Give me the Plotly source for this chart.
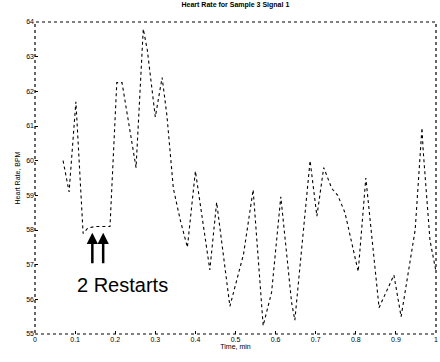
import plotly.graph_objects as go

time_min = [0.07, 0.085, 0.102, 0.12, 0.132, 0.15, 0.168, 0.187, 0.204, 0.217, 0.252, 0.27, 0.28,
            0.30, 0.317, 0.329, 0.345, 0.362, 0.38, 0.40, 0.436, 0.453, 0.486, 0.52, 0.544, 0.569,
            0.59, 0.613, 0.64, 0.648, 0.686, 0.703, 0.72, 0.74, 0.755, 0.773, 0.806, 0.825,
            0.858, 0.895, 0.913, 0.948, 0.965, 0.968, 0.985, 1.0]
heart_rate = [60.0, 59.1, 61.7, 57.9, 58.06, 58.1, 58.1, 58.1, 62.25, 62.25, 59.8, 63.8, 63.2,
              61.26, 62.4, 61.3, 59.2, 58.3, 57.5, 59.7, 56.85, 58.8, 55.8, 57.3, 59.16, 55.24,
              56.2, 58.96, 55.9, 55.4, 60.0, 58.4, 59.8, 59.2, 59.0, 58.5, 56.8, 59.5,
              55.76, 56.7, 55.5, 58.0, 60.95, 60.3, 57.7, 56.8]

x_ticks = [0, 0.1, 0.2, 0.3, 0.4, 0.5, 0.6, 0.7, 0.8, 0.9, 1]
x_tick_labels = ["0", "0.1", "0.2", "0.3", "0.4", "0.5", "0.6", "0.7", "0.8", "0.9", "1"]
y_ticks = [55, 56, 57, 58, 59, 60, 61, 62, 63, 64]
restart_times = [0.143, 0.17]

fig = go.Figure()
fig.add_trace(go.Scatter(x=time_min, y=heart_rate, mode="lines",
                         line=dict(color="black", width=1.1, dash="dot"),
                         showlegend=False, hoverinfo="skip"))

font = dict(family="Liberation Sans, Arial, sans-serif", color="black")
fig.update_layout(
    width=440, height=362,
    margin=dict(l=35, r=4, t=22, b=28, autoexpand=False),
    paper_bgcolor="white", plot_bgcolor="white",
    title=dict(text="<b>Heart Rate for Sample 3 Signal 1</b>", x=0.535, xanchor="center",
               y=0.995, yanchor="top", font=dict(size=7, **font)),
    xaxis=dict(range=[0, 1], tickvals=x_ticks, ticktext=x_tick_labels, ticks="inside",
               ticklen=3, tickcolor="black", showgrid=False, zeroline=False, showline=False,
               automargin=False, tickfont=dict(size=7, **font),
               title=dict(text="Time, min", font=dict(size=7, **font), standoff=2)),
    yaxis=dict(range=[55, 64], tickvals=y_ticks, ticks="inside", ticklen=3, tickcolor="black",
               showgrid=False, zeroline=False, showline=False,
               automargin=False, tickfont=dict(size=7, **font),
               title=dict(text="Heart Rate, BPM", font=dict(size=7, **font), standoff=4)),
)

fig.add_shape(type="rect", xref="paper", yref="paper", x0=0, y0=0, x1=1, y1=1,
              line=dict(color="black", width=1.2, dash="dot"))

for t in restart_times:
    fig.add_annotation(x=t, y=57.92, ax=t, ay=57.0, xref="x", yref="y", axref="x", ayref="y",
                       showarrow=True, arrowhead=2, arrowsize=0.9, arrowwidth=2.5,
                       arrowcolor="black", text="")

fig.add_annotation(x=0.218, y=56.42, xref="x", yref="y", text="2 Restarts", showarrow=False,
                   font=dict(size=20, **font))

fig.write_html("out.html", config={"displayModeBar": False},
               post_script="document.body.style.margin='0';")
